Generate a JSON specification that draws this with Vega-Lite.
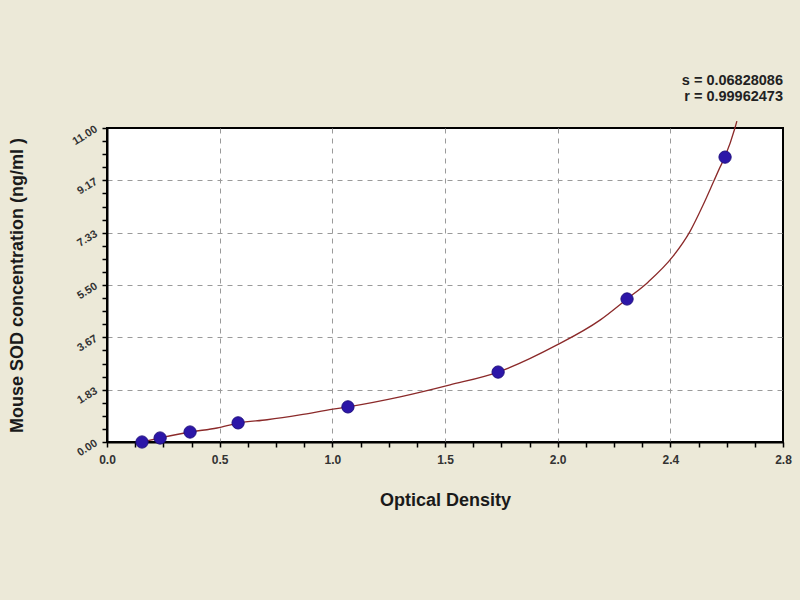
{
  "$schema": "https://vega.github.io/schema/vega-lite/v6.json",
  "description": "Standard curve: Mouse SOD concentration vs optical density.",
  "autosize": {"type": "none"},
  "padding": {"left": 107, "top": 128, "right": 17, "bottom": 158},
  "width": 676,
  "height": 314,
  "background": "#ECE9D8",
  "title": {
    "text": "s = 0.06828086",
    "subtitle": "r = 0.99962473",
    "anchor": "end",
    "frame": "group",
    "offset": 14,
    "font": "Liberation Sans",
    "fontSize": 14.5,
    "fontWeight": "bold",
    "color": "#222222",
    "subtitleFont": "Liberation Sans",
    "subtitleFontSize": 14.5,
    "subtitleFontWeight": "bold",
    "subtitleColor": "#222222",
    "subtitlePadding": 2
  },
  "datasets": {
    "standards": [
      {"od": 0.145, "conc": 0.0},
      {"od": 0.220, "conc": 0.14},
      {"od": 0.344, "conc": 0.35},
      {"od": 0.543, "conc": 0.67},
      {"od": 0.998, "conc": 1.23},
      {"od": 1.620, "conc": 2.45},
      {"od": 2.154, "conc": 5.01},
      {"od": 2.560, "conc": 9.98}
    ],
    "fit": [
      {"od": 0.145, "conc": 0.0},
      {"od": 0.220, "conc": 0.14},
      {"od": 0.344, "conc": 0.35},
      {"od": 0.456, "conc": 0.49},
      {"od": 0.543, "conc": 0.66},
      {"od": 0.663, "conc": 0.78},
      {"od": 0.799, "conc": 0.95},
      {"od": 0.936, "conc": 1.15},
      {"od": 0.998, "conc": 1.23},
      {"od": 1.214, "conc": 1.58},
      {"od": 1.421, "conc": 2.0},
      {"od": 1.620, "conc": 2.45},
      {"od": 1.864, "conc": 3.4},
      {"od": 2.042, "conc": 4.27},
      {"od": 2.154, "conc": 5.01},
      {"od": 2.241, "conc": 5.6},
      {"od": 2.344, "conc": 6.5},
      {"od": 2.415, "conc": 7.38},
      {"od": 2.469, "conc": 8.3},
      {"od": 2.514, "conc": 9.15},
      {"od": 2.535, "conc": 9.55},
      {"od": 2.560, "conc": 10.0},
      {"od": 2.601, "conc": 11.0},
      {"od": 2.609, "conc": 11.24}
    ]
  },
  "encoding": {
    "x": {
      "field": "od",
      "type": "quantitative",
      "scale": {"domain": [0, 2.8], "nice": false, "zero": false},
      "axis": {
        "title": "Optical Density",
        "titleFont": "Liberation Sans",
        "titleFontSize": 18,
        "titleFontWeight": "bold",
        "titleColor": "#1a1a1a",
        "titleX": 338,
        "titleY": 58,
        "titleAlign": "center",
        "titleBaseline": "middle",
        "values": [0, 0.11667, 0.23333, 0.35, 0.46667, 0.58333, 0.7, 0.81667, 0.93333, 1.05, 1.16667, 1.28333, 1.4, 1.51667, 1.63333, 1.75, 1.86667, 1.98333, 2.1, 2.21667, 2.33333, 2.45, 2.56667, 2.68333, 2.8],
        "labelExpr": "abs(datum.value/0.466667 - round(datum.value/0.466667)) < 0.01 ? ['0.0','0.5','1.0','1.5','2.0','2.4','2.8'][round(datum.value/0.466667)] : ''",
        "labelOverlap": false,
        "labelBound": false,
        "labelFlush": false,
        "labelFont": "Liberation Sans",
        "labelFontSize": 12,
        "labelFontWeight": "bold",
        "labelColor": "#333333",
        "labelPadding": 7,
        "domainColor": "#000000",
        "domainWidth": 2,
        "tickColor": "#000000",
        "tickWidth": 1.5,
        "tickSize": 5,
        "grid": true,
        "gridColor": "#9a9a9a",
        "gridDash": [5, 5],
        "gridWidth": 1,
        "gridOpacity": {
          "condition": {"test": "abs(datum.value/0.466667 - round(datum.value/0.466667)) < 0.01 && datum.value > 0.01 && datum.value < 2.79", "value": 1},
          "value": 0
        }
      }
    },
    "y": {
      "field": "conc",
      "type": "quantitative",
      "scale": {"domain": [0, 11], "nice": false},
      "axis": {
        "title": "Mouse SOD concentration (ng/ml )",
        "titleFont": "Liberation Sans",
        "titleFontSize": 18,
        "titleFontWeight": "bold",
        "titleColor": "#1a1a1a",
        "titleAngle": -90,
        "titleX": -90,
        "titleY": 157,
        "titleAlign": "center",
        "titleBaseline": "middle",
        "values": [0, 0.45833, 0.91667, 1.375, 1.83333, 2.29167, 2.75, 3.20833, 3.66667, 4.125, 4.58333, 5.04167, 5.5, 5.95833, 6.41667, 6.875, 7.33333, 7.79167, 8.25, 8.70833, 9.16667, 9.625, 10.08333, 10.54167, 11],
        "labelExpr": "abs(datum.value/1.833333 - round(datum.value/1.833333)) < 0.01 ? format(datum.value, '.2f') : ''",
        "labelOverlap": false,
        "labelBound": false,
        "labelFlush": false,
        "labelAngle": -32,
        "labelAlign": "right",
        "labelBaseline": "middle",
        "labelFont": "Liberation Sans",
        "labelFontSize": 11,
        "labelFontWeight": "bold",
        "labelColor": "#333333",
        "labelPadding": 6,
        "domainColor": "#000000",
        "domainWidth": 2,
        "tickColor": "#000000",
        "tickWidth": 1.5,
        "tickSize": 5,
        "grid": true,
        "gridColor": "#9a9a9a",
        "gridDash": [5, 5],
        "gridWidth": 1,
        "gridOpacity": {
          "condition": {"test": "abs(datum.value/1.833333 - round(datum.value/1.833333)) < 0.01 && datum.value > 0.01 && datum.value < 10.99", "value": 1},
          "value": 0
        }
      }
    }
  },
  "layer": [
    {
      "data": {"name": "fit"},
      "mark": {"type": "line", "color": "#8B2A2A", "strokeWidth": 1.3, "clip": false, "interpolate": "monotone"},
      "encoding": {"order": {"field": "od", "type": "quantitative"}}
    },
    {
      "data": {"name": "standards"},
      "mark": {"type": "circle", "size": 150, "color": "#2C16A8", "opacity": 1, "stroke": "#1E0E80", "strokeWidth": 1}
    }
  ],
  "config": {
    "view": {"stroke": "#000000", "strokeWidth": 2, "fill": "#FFFFFF"}
  }
}
